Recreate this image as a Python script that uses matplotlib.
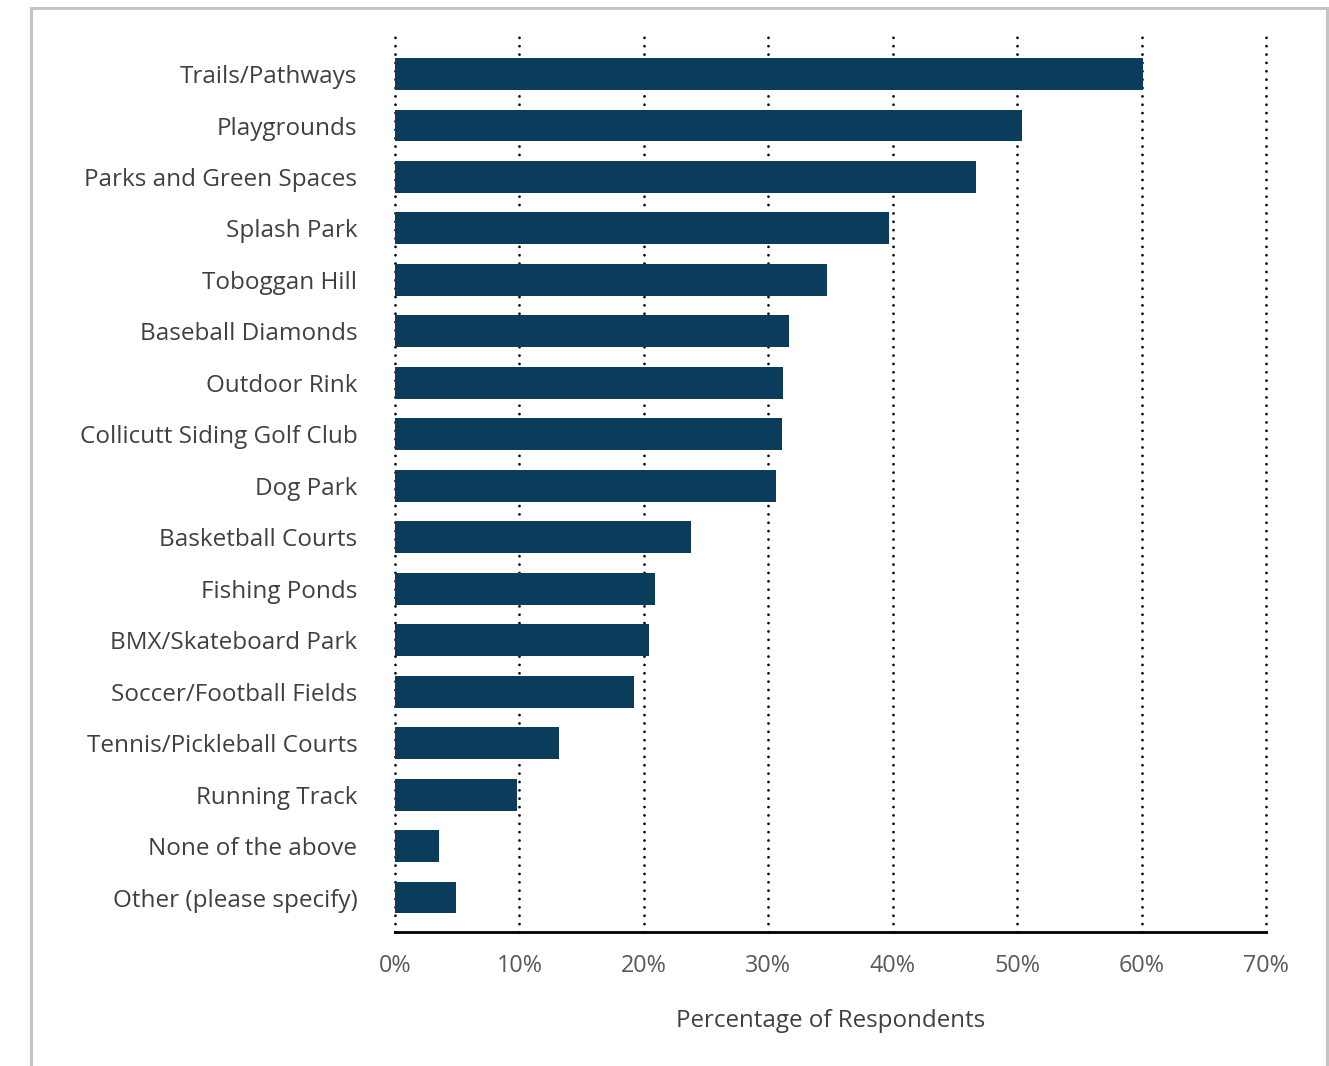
import matplotlib.pyplot as plt
from matplotlib.patches import Rectangle
from matplotlib.ticker import FuncFormatter

categories = [
    "Trails/Pathways", "Playgrounds", "Parks and Green Spaces", "Splash Park",
    "Toboggan Hill", "Baseball Diamonds", "Outdoor Rink",
    "Collicutt Siding Golf Club", "Dog Park", "Basketball Courts",
    "Fishing Ponds", "BMX/Skateboard Park", "Soccer/Football Fields",
    "Tennis/Pickleball Courts", "Running Track", "None of the above",
    "Other (please specify)",
]
percent = [60.1, 50.4, 46.7, 39.7, 34.7, 31.7, 31.2, 31.1, 30.6,
           23.8, 20.9, 20.4, 19.2, 13.2, 9.8, 3.5, 4.9]
xticks = [0, 10, 20, 30, 40, 50, 60, 70]

plt.rcParams['font.family'] = ['Open Sans', 'DejaVu Sans']

fig = plt.figure(figsize=(13.29, 10.66), dpi=100)
ax = fig.add_axes([0.2972, 0.1257, 0.6554, 0.8396])

ypos = list(range(len(categories)))
ax.barh(ypos, percent, height=0.62, color='#0c3c5b', zorder=3)

ax.set_xlim(0, 70)
ax.set_ylim(len(categories) - 0.33, -0.72)
ax.set_yticks(ypos)
ax.set_yticklabels(categories, fontsize=17.5, color='#404040')
ax.set_xticks(xticks)
ax.xaxis.set_major_formatter(FuncFormatter(lambda v, p: f"{v:.0f}%"))
ax.tick_params(axis='x', length=0, pad=16, labelsize=16.8, labelcolor='#595959')
ax.tick_params(axis='y', length=0, pad=27)

# dotted vertical gridlines made of round dots
ax.xaxis.grid(True, color='black', linewidth=2,
              linestyle=(0, (0.01, 3)), dash_capstyle='round', zorder=1)
for gl in ax.get_xgridlines():
    gl.set_clip_on(False)
ax.set_axisbelow(True)

for s in ['top', 'right', 'left']:
    ax.spines[s].set_visible(False)
ax.spines['bottom'].set_linewidth(2)
ax.spines['bottom'].set_color('black')
ax.spines['bottom'].set_zorder(4)

ax.set_xlabel("Percentage of Respondents", fontsize=17.4, color='#404040',
              labelpad=22)

# light grey frame round the chart, open at the bottom
frame = Rectangle((31 / 1329, -0.1), (1327 - 31) / 1329, 1.1 - 8 / 1066,
                  transform=fig.transFigure, fill=False,
                  edgecolor='#c4c4c4', linewidth=2.2, clip_on=False)
fig.add_artist(frame)

fig.savefig("out.png", dpi=100)
